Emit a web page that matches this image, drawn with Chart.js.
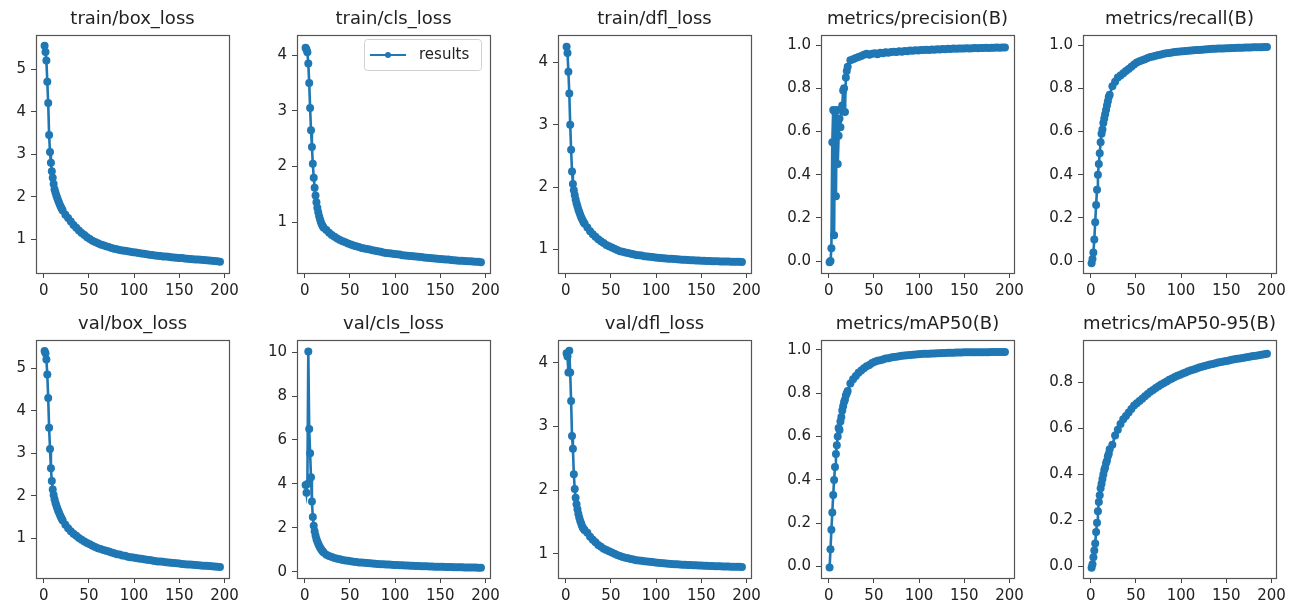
<!DOCTYPE html>
<html>
<head>
<meta charset="utf-8">
<script src="https://cdn.jsdelivr.net/npm/chart.js@4.4.1/dist/chart.umd.min.js"></script>
<style>
  html, body { margin: 0; padding: 0; background: #fff; overflow: hidden; }
  body { width: 1294px; height: 609px; position: relative; }
  canvas { position: absolute; }
</style>
</head>
<body>
<script>
// epochs (x values)
const epochs = [1,2,3,4,5,6,7,8,9,10,11,12,13,14,15,16,17,18,19,20,21,
  24,27,30,33,36,39,42,45,48,51,54,57,60,63,66,69,72,75,78,81,84,87,90,93,96,99,102,105,108,111,
  114,117,120,123,126,129,132,135,138,141,144,147,150,153,156,159,162,165,168,171,174,177,180,183,186,189,192,195];

// series
const trainBox = [5.55,5.40,5.20,4.70,4.20,3.45,3.05,2.80,2.60,2.45,2.30,2.18,2.10,2.03,1.97,1.91,1.86,1.81,1.76,1.72,1.68,
  1.58,1.50,1.42,1.34,1.27,1.21,1.15,1.10,1.05,1.01, 0.97,0.94,0.91,0.88,0.86,0.84,0.82,0.80,0.78,0.77,
  0.75,0.74,0.73,0.72,0.71,0.70,0.69,0.68,0.67,0.66, 0.65,0.64,0.63,0.62,0.615,0.61,0.60,0.595,0.59,0.58,
  0.575,0.57,0.565,0.56,0.55,0.545,0.54,0.535,0.53,0.525, 0.52,0.515,0.51,0.505,0.50,0.49,0.485,0.475];
const trainCls = [4.13,4.10,4.05,3.85,3.50,3.05,2.65,2.35,2.05,1.80,1.62,1.48,1.36,1.26,1.18,1.11,1.05,1.00,0.96,0.93,0.90,
  0.86,0.81,0.77,0.74,0.71,0.68,0.66,0.64,0.62,0.60, 0.585,0.57,0.555,0.54,0.53,0.52,0.51,0.50,0.49,0.48,
  0.47,0.46,0.45,0.445,0.44,0.43,0.425,0.42,0.41,0.405, 0.40,0.395,0.39,0.385,0.38,0.375,0.37,0.365,0.36,0.355,
  0.35,0.345,0.34,0.335,0.33,0.33,0.325,0.32,0.315,0.31, 0.31,0.305,0.30,0.30,0.295,0.29,0.29,0.285];
const trainDfl = [4.25,4.15,3.85,3.50,3.00,2.60,2.25,2.05,1.95,1.87,1.80,1.74,1.69,1.64,1.60,1.56,1.52,1.49,1.46,1.43,1.41,
  1.35,1.29,1.24,1.20,1.16,1.13,1.10,1.07,1.05,1.03, 1.01,0.99,0.97,0.96,0.95,0.94,0.93,0.92,0.91,0.905,
  0.90,0.89,0.885,0.88,0.875,0.87,0.865,0.86,0.857,0.853, 0.85,0.847,0.844,0.84,0.837,0.834,0.831,0.828,0.826,0.824,
  0.822,0.82,0.818,0.816,0.814,0.812,0.81,0.809,0.808,0.806, 0.805,0.804,0.803,0.802,0.801,0.80,0.80,0.798];
const precision = [-0.005,0.0,0.06,0.55,0.70,0.12,0.69,0.30,0.70,0.45,0.58,0.66,0.62,0.70,0.72,0.79,0.80,0.69,0.85,0.88,0.90,
  0.93,0.935,0.94,0.945,0.95,0.955,0.96,0.955,0.96,0.962, 0.958,0.965,0.963,0.967,0.965,0.968,0.97,0.968,0.972,0.97,
  0.973,0.972,0.975,0.974,0.976,0.975,0.978,0.977,0.979,0.978, 0.98,0.979,0.981,0.98,0.982,0.981,0.983,0.982,0.984,0.983,
  0.985,0.984,0.985,0.986,0.985,0.986,0.987,0.986,0.987,0.987, 0.988,0.987,0.988,0.988,0.989,0.988,0.989,0.989];
const recall = [-0.01,0.01,0.04,0.10,0.18,0.26,0.33,0.40,0.45,0.50,0.55,0.59,0.61,0.64,0.66,0.68,0.70,0.72,0.74,0.76,0.77,
  0.81,0.83,0.85,0.86,0.87,0.88,0.89,0.90,0.91,0.92, 0.925,0.93,0.935,0.94,0.945,0.948,0.951,0.954,0.957,0.96,
  0.962,0.964,0.966,0.968,0.97,0.971,0.972,0.973,0.974,0.975, 0.976,0.977,0.978,0.979,0.98,0.981,0.982,0.983,0.983,0.984,
  0.985,0.985,0.986,0.986,0.987,0.987,0.988,0.988,0.988,0.989, 0.989,0.989,0.99,0.99,0.99,0.99,0.991,0.991];
const valBox = [5.40,5.35,5.20,4.85,4.30,3.60,3.10,2.65,2.35,2.15,2.02,1.92,1.84,1.77,1.71,1.65,1.60,1.55,1.50,1.46,1.42,
  1.32,1.24,1.17,1.11,1.06,1.01,0.97,0.93,0.89,0.86, 0.83,0.80,0.77,0.75,0.73,0.71,0.69,0.67,0.65,0.63,
  0.62,0.60,0.59,0.57,0.56,0.55,0.54,0.53,0.52,0.51, 0.50,0.49,0.48,0.47,0.46,0.455,0.45,0.44,0.435,0.43,
  0.42,0.415,0.41,0.40,0.395,0.39,0.385,0.38,0.375,0.37, 0.365,0.36,0.355,0.35,0.345,0.34,0.335,0.33];
const valCls = [3.95,3.60,4.00,10.03,6.50,5.40,4.30,3.20,2.50,2.10,1.85,1.65,1.50,1.38,1.28,1.19,1.11,1.04,0.98,0.93,0.88,
  0.78,0.72,0.67,0.63,0.60,0.57,0.54,0.52,0.50,0.48, 0.46,0.45,0.43,0.42,0.41,0.40,0.39,0.38,0.37,0.36,
  0.35,0.34,0.335,0.33,0.32,0.315,0.31,0.30,0.295,0.29, 0.285,0.28,0.275,0.27,0.265,0.26,0.255,0.25,0.245,0.24,
  0.237,0.234,0.23,0.227,0.224,0.22,0.217,0.214,0.21,0.207, 0.205,0.202,0.20,0.198,0.196,0.194,0.192,0.19];
const valDfl = [4.15,4.10,3.85,4.19,3.85,3.40,2.85,2.65,2.25,2.02,1.88,1.78,1.70,1.63,1.57,1.52,1.48,1.44,1.41,1.39,1.37,
  1.33,1.27,1.22,1.18,1.14,1.11,1.08,1.06,1.04,1.02, 1.00,0.98,0.965,0.95,0.94,0.93,0.92,0.91,0.90,0.895,
  0.89,0.885,0.88,0.875,0.87,0.865,0.86,0.855,0.85,0.847, 0.844,0.841,0.838,0.835,0.832,0.83,0.827,0.825,0.823,0.821,
  0.819,0.817,0.815,0.813,0.811,0.809,0.807,0.805,0.804,0.803, 0.802,0.80,0.799,0.798,0.797,0.796,0.795,0.794];
const mAP50 = [-0.005,0.08,0.17,0.25,0.33,0.40,0.46,0.52,0.56,0.60,0.64,0.63,0.67,0.69,0.72,0.74,0.76,0.77,0.79,0.80,0.81,
  0.845,0.865,0.88,0.895,0.905,0.915,0.925,0.93,0.94,0.945, 0.95,0.953,0.956,0.96,0.962,0.965,0.967,0.969,0.971,0.973,
  0.975,0.976,0.977,0.978,0.979,0.98,0.981,0.982,0.982,0.983, 0.984,0.984,0.985,0.985,0.986,0.986,0.987,0.987,0.987,0.988,
  0.988,0.988,0.989,0.989,0.989,0.989,0.99,0.99,0.99,0.99, 0.99,0.99,0.991,0.991,0.991,0.991,0.991,0.991];
const mAP5095 = [-0.005,0.01,0.04,0.07,0.10,0.15,0.19,0.24,0.28,0.31,0.34,0.36,0.38,0.40,0.42,0.43,0.45,0.46,0.48,0.49,0.51,
  0.53,0.57,0.595,0.62,0.64,0.655,0.67,0.685,0.70,0.71, 0.72,0.73,0.74,0.75,0.76,0.768,0.776,0.784,0.791,0.798,
  0.805,0.812,0.818,0.824,0.829,0.834,0.839,0.844,0.849,0.853, 0.857,0.861,0.865,0.869,0.872,0.875,0.878,0.881,0.884,0.887,
  0.889,0.892,0.894,0.896,0.899,0.901,0.903,0.905,0.907,0.909, 0.911,0.913,0.915,0.917,0.919,0.921,0.923,0.925];

// titles and tick labels
const titles = ['train/box_loss', 'train/cls_loss', 'train/dfl_loss', 'metrics/precision(B)', 'metrics/recall(B)',
  'val/box_loss', 'val/cls_loss', 'val/dfl_loss', 'metrics/mAP50(B)', 'metrics/mAP50-95(B)'];
const xTicks = [0, 50, 100, 150, 200];
const lossTicks5 = [1, 2, 3, 4, 5];
const lossTicks4 = [1, 2, 3, 4];
const clsValTicks = [0, 2, 4, 6, 8, 10];
const metricTicks = [0, 0.2, 0.4, 0.6, 0.8, 1.0];
const metricTicks08 = [0, 0.2, 0.4, 0.6, 0.8];

const series = [trainBox, trainCls, trainDfl, precision, recall, valBox, valCls, valDfl, mAP50, mAP5095];
const yRanges = [[0.21, 5.80], [0.09, 4.36], [0.62, 4.44], [-0.055, 1.047], [-0.055, 1.047],
  [0.07, 5.66], [-0.28, 10.55], [0.62, 4.36], [-0.053, 1.046], [-0.05, 0.985]];
const yTickSets = [lossTicks5, lossTicks4, lossTicks4, metricTicks, metricTicks,
  lossTicks5, clsValTicks, lossTicks4, metricTicks, metricTicks08];
const yDecimals = [0, 0, 0, 1, 1, 0, 0, 0, 1, 1];

const panelLefts = [36, 297, 558, 821, 1083];
const rowTops = [0, 305];
const blue = '#1f77b4';
const tickFont = { family: 'DejaVu Sans', size: 15 };

// box round each axes
const frame = {
  id: 'frame',
  afterDatasetsDraw(chart) {
    const a = chart.chartArea, ctx = chart.ctx;
    ctx.save();
    ctx.strokeStyle = '#555';
    ctx.lineWidth = 1.2;
    ctx.strokeRect(Math.round(a.left) + 0.5, Math.round(a.top) + 0.5,
      Math.round(a.right - a.left), Math.round(a.bottom - a.top));
    ctx.restore();
  }
};

// matplotlib style legend, only on train/cls_loss
const resultsLegend = {
  id: 'resultsLegend',
  afterDraw(chart) {
    const a = chart.chartArea, ctx = chart.ctx;
    const x0 = a.right - 126, y0 = a.top + 4, w = 117, h = 31, cy = y0 + 16;
    ctx.save();
    ctx.beginPath();
    ctx.roundRect(x0 + 0.5, y0 + 0.5, w, h, 3);
    ctx.fillStyle = 'rgba(255,255,255,0.8)';
    ctx.fill();
    ctx.strokeStyle = '#d0d0d0';
    ctx.lineWidth = 1;
    ctx.stroke();
    ctx.strokeStyle = blue;
    ctx.lineWidth = 2.2;
    ctx.beginPath();
    ctx.moveTo(x0 + 6, cy);
    ctx.lineTo(x0 + 42, cy);
    ctx.stroke();
    ctx.fillStyle = blue;
    ctx.beginPath();
    ctx.arc(x0 + 24, cy, 3, 0, Math.PI * 2);
    ctx.fill();
    ctx.fillStyle = '#222';
    ctx.font = '15px "DejaVu Sans"';
    ctx.textBaseline = 'middle';
    ctx.fillText('results', x0 + 55, cy);
    ctx.restore();
  }
};

function makePanel(i) {
  const row = Math.floor(i / 5), col = i % 5;
  const canvas = document.createElement('canvas');
  canvas.width = 258;
  canvas.height = 304;
  canvas.style.left = (panelLefts[col] - 45) + 'px';
  canvas.style.top = rowTops[row] + 'px';
  document.body.appendChild(canvas);

  const vals = series[i];
  const yTicks = yTickSets[i];
  const dec = yDecimals[i];

  new Chart(canvas, {
    type: 'line',
    data: {
      datasets: [{
        label: 'results',
        data: epochs.map((e, k) => ({ x: e, y: vals[k] })),
        borderColor: blue,
        backgroundColor: blue,
        borderWidth: 2.6,
        pointRadius: 4,
        pointBorderWidth: 0,
        pointHoverRadius: 0,
        tension: 0
      }]
    },
    options: {
      responsive: false,
      animation: false,
      devicePixelRatio: 1,
      events: [],
      layout: { padding: { left: 0, right: 20, top: 0, bottom: 0 } },
      plugins: {
        legend: { display: false },
        tooltip: { enabled: false },
        title: {
          display: true,
          text: titles[i],
          fullSize: false,
          color: '#222',
          font: { family: 'DejaVu Sans', size: 18, weight: 'normal' },
          padding: { top: 9, bottom: 4.4 }
        }
      },
      scales: {
        x: {
          type: 'linear',
          min: -8.5,
          max: 205,
          afterBuildTicks: s => { s.ticks = xTicks.map(v => ({ value: v })); },
          afterFit: s => { s.height = 31; },
          grid: { drawOnChartArea: false, tickLength: 5, color: '#444' },
          border: { display: false },
          ticks: { color: '#222', font: tickFont, padding: 4, maxRotation: 0, autoSkip: false }
        },
        y: {
          min: yRanges[i][0],
          max: yRanges[i][1],
          afterBuildTicks: s => { s.ticks = yTicks.map(v => ({ value: v })); },
          afterFit: s => { s.width = 45; },
          grid: { drawOnChartArea: false, tickLength: 5, color: '#444' },
          border: { display: false },
          ticks: { color: '#222', font: tickFont, padding: 5, autoSkip: false,
            callback: v => Number(v).toFixed(dec) }
        }
      }
    },
    plugins: i === 1 ? [frame, resultsLegend] : [frame]
  });
}

for (let i = 0; i < 10; i++) makePanel(i);
</script>
</body>
</html>
